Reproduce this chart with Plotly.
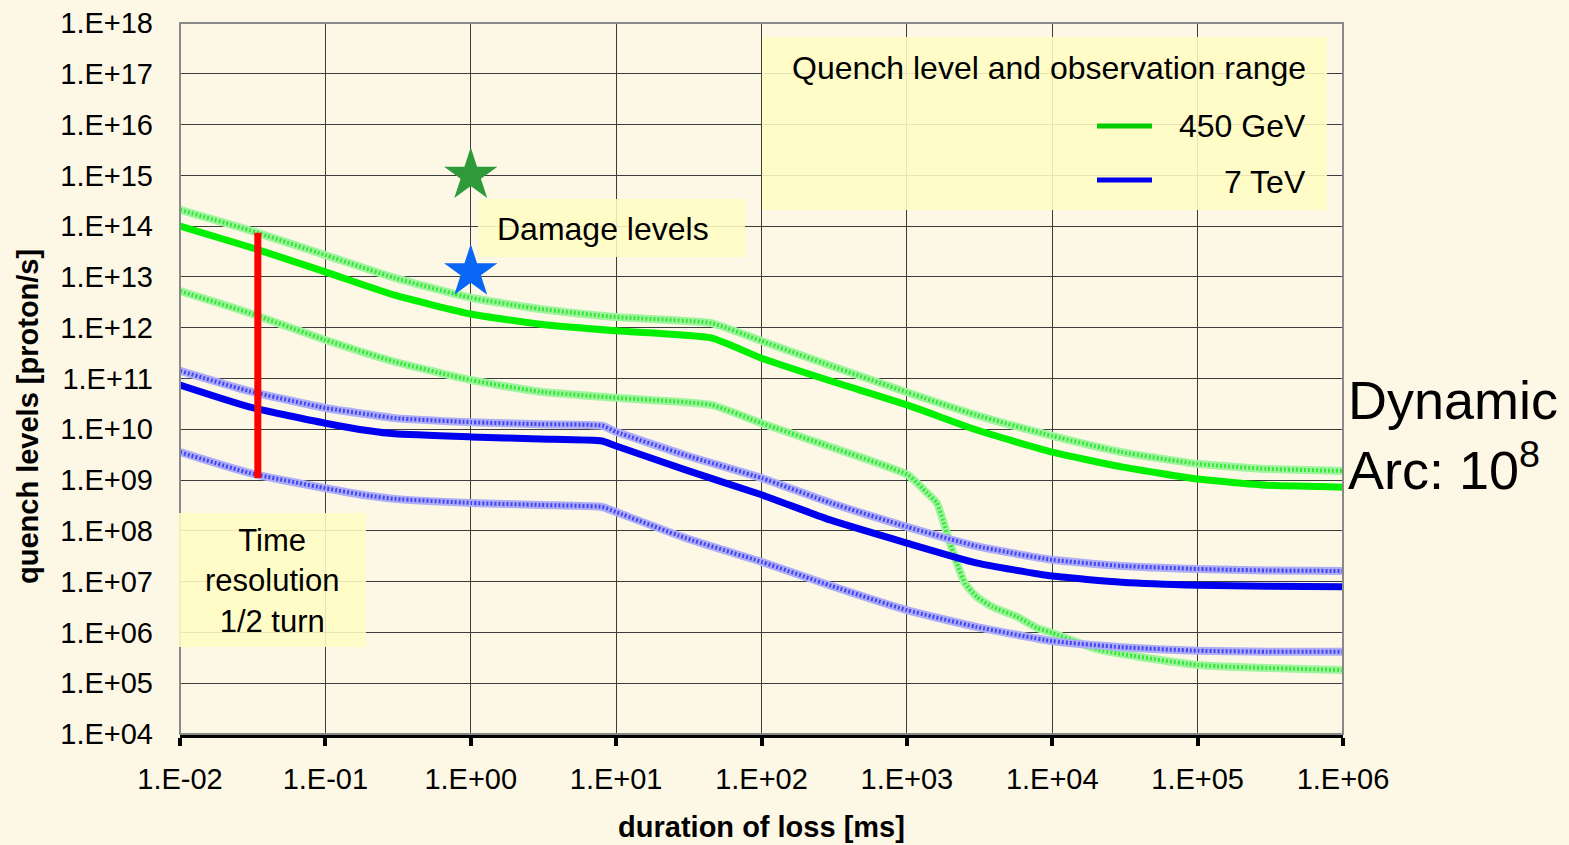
import plotly.graph_objects as go

# ---------------- data ----------------
x_main = [0.01, 0.03, 0.1, 0.3, 1, 3, 10, 45, 100, 300, 1000, 3000, 1e4, 3e4, 1e5, 3e5, 1e6]
g450_quench_log10 = [14.0, 13.59, 13.10, 12.64, 12.27, 12.07, 11.94, 11.80, 11.40, 10.95,
                     10.48, 9.99, 9.55, 9.26, 9.02, 8.90, 8.86]
g450_upper_log10 = [14.32, 13.92, 13.43, 12.98, 12.59, 12.37, 12.21, 12.09, 11.74, 11.25,
                    10.73, 10.28, 9.87, 9.55, 9.32, 9.22, 9.18]

x_g450_lower = [0.01, 0.03, 0.1, 0.3, 1, 3, 10, 45, 100, 300, 1016, 1374, 1607, 1770, 1977,
                2208, 2506, 3027, 3899, 5715, 7834, 1e4, 2.1e4, 1e5, 1e6]
g450_lower_log10 = [12.72, 12.29, 11.76, 11.33, 10.97, 10.74, 10.62, 10.48, 10.12, 9.65, 9.10,
                    8.75, 8.55, 8.21, 7.76, 7.37, 6.97, 6.70, 6.50, 6.31, 6.09, 5.99, 5.66,
                    5.36, 5.26]

x_7tev = [0.01, 0.03, 0.1, 0.2, 0.3, 1, 3, 8, 10, 30, 100, 300, 1000, 3000, 1e4, 3e4, 1e5, 3e5, 1e6]
t7_quench_log10 = [10.87, 10.44, 10.12, 9.97, 9.91, 9.85, 9.81, 9.77, 9.67, 9.20, 8.71, 8.21,
                   7.76, 7.37, 7.11, 6.99, 6.93, 6.91, 6.90]
t7_upper_log10 = [11.15, 10.75, 10.42, 10.29, 10.22, 10.14, 10.10, 10.07, 9.95, 9.49, 9.04, 8.55,
                  8.08, 7.70, 7.43, 7.31, 7.25, 7.22, 7.21]
t7_lower_log10 = [9.55, 9.14, 8.84, 8.69, 8.63, 8.55, 8.51, 8.47, 8.37, 7.86, 7.39, 6.92,
                  6.44, 6.11, 5.83, 5.71, 5.64, 5.62, 5.62]

time_res_x = [0.0343, 0.0343]
time_res_y = [7.4e13, 1.1e9]

damage_x = [1.0, 1.0]
damage_y = [1.0e15, 1.25e13]
damage_colors = ["#2f9a3a", "#0a66f5"]

x_ticks = [1e-2, 1e-1, 1e0, 1e1, 1e2, 1e3, 1e4, 1e5, 1e6]
x_ticktext = ["1.E-02", "1.E-01", "1.E+00", "1.E+01", "1.E+02", "1.E+03", "1.E+04", "1.E+05", "1.E+06"]
y_ticks = [10.0 ** k for k in range(4, 19)]
y_ticktext = ["1.E+%02d" % k for k in range(4, 19)]

# ---------------- styling ----------------
W, H = 1569, 845
L, R, T, B = 180, 1343, 23, 734
FONT = "Liberation Sans, Arial, sans-serif"
BG = "#FDF7E5"
GREEN = "#00F000"
BLUE = "#0000F0"


def px(xp):
    return (xp - L) / (R - L)


def py(yp):
    return (B - yp) / (B - T)


def exp10(vals):
    return [10.0 ** v for v in vals]


fig = go.Figure()


def hatched(xs, ys, base, dots):
    fig.add_trace(go.Scatter(x=xs, y=ys, mode="lines", showlegend=False, hoverinfo="skip",
                             line=dict(color=base, width=8, shape="spline", smoothing=0.5)))
    fig.add_trace(go.Scatter(x=xs, y=ys, mode="lines", showlegend=False, hoverinfo="skip",
                             line=dict(color=dots, width=4, dash="2px,2px", shape="spline",
                                       smoothing=0.5)))


hatched(x_main, exp10(g450_upper_log10), "#A0F4A0", "#38E638")
hatched(x_g450_lower, exp10(g450_lower_log10), "#A0F4A0", "#38E638")
hatched(x_7tev, exp10(t7_upper_log10), "#ADADF8", "#4646F0")
hatched(x_7tev, exp10(t7_lower_log10), "#ADADF8", "#4646F0")

fig.add_trace(go.Scatter(x=x_main, y=exp10(g450_quench_log10), mode="lines", name="450 GeV",
                         showlegend=False,
                         line=dict(color=GREEN, width=7, shape="spline", smoothing=0.5)))
fig.add_trace(go.Scatter(x=x_7tev, y=exp10(t7_quench_log10), mode="lines", name="7 TeV",
                         showlegend=False,
                         line=dict(color=BLUE, width=7, shape="spline", smoothing=0.5)))

fig.add_trace(go.Scatter(x=time_res_x, y=time_res_y, mode="lines", showlegend=False,
                         line=dict(color="#FF0000", width=7)))

fig.add_trace(go.Scatter(x=damage_x, y=damage_y, mode="markers", showlegend=False,
                         marker=dict(symbol="star", size=40, color=damage_colors,
                                     line=dict(width=0))))

shapes = []
# plot border (gray)
shapes.append(dict(type="rect", xref="paper", yref="paper", x0=0, x1=1, y0=0, y1=1,
                   line=dict(color="#8a8a8a", width=2), layer="above"))
# legend box
shapes.append(dict(type="rect", xref="paper", yref="paper", x0=px(762), x1=px(1327),
                   y0=py(210), y1=py(37), fillcolor="rgba(255,253,196,0.88)",
                   line=dict(width=0), layer="above"))
shapes.append(dict(type="line", xref="paper", yref="paper", x0=px(1097), x1=px(1152),
                   y0=py(126), y1=py(126), line=dict(color="#00CC00", width=5), layer="above"))
shapes.append(dict(type="line", xref="paper", yref="paper", x0=px(1097), x1=px(1152),
                   y0=py(180), y1=py(180), line=dict(color="#0000EE", width=5), layer="above"))
# damage levels box
shapes.append(dict(type="rect", xref="paper", yref="paper", x0=px(478), x1=px(745),
                   y0=py(257), y1=py(199), fillcolor="rgba(255,253,196,0.88)",
                   line=dict(width=0), layer="above"))
# time resolution box
shapes.append(dict(type="rect", xref="paper", yref="paper", x0=px(178), x1=px(366),
                   y0=py(647), y1=py(513), fillcolor="rgba(255,253,196,0.88)",
                   line=dict(width=0), layer="above"))

annotations = [
    dict(xref="paper", yref="paper", x=px(1308), y=py(68), text="Quench level and observation range",
         xanchor="right", yanchor="middle", showarrow=False, font=dict(size=32, color="black")),
    dict(xref="paper", yref="paper", x=px(1308), y=py(126), text="450 GeV",
         xanchor="right", yanchor="middle", showarrow=False, font=dict(size=32, color="black")),
    dict(xref="paper", yref="paper", x=px(1308), y=py(182), text="7 TeV",
         xanchor="right", yanchor="middle", showarrow=False, font=dict(size=32, color="black")),
    dict(xref="paper", yref="paper", x=px(603), y=py(229), text="Damage levels",
         xanchor="center", yanchor="middle", showarrow=False, font=dict(size=32, color="black")),
    dict(xref="paper", yref="paper", x=px(272), y=py(581), text="Time<br>resolution<br>1/2 turn",
         xanchor="center", yanchor="middle", showarrow=False, align="center",
         font=dict(size=31, color="black")),
    dict(xref="paper", yref="paper", x=px(1346), y=py(435), text="Dynamic<br>Arc: 10<sup>8</sup>",
         xanchor="left", yanchor="middle", showarrow=False, align="left",
         font=dict(size=54, color="black")),
    dict(xref="paper", yref="paper", x=px(28), y=py(417), text="<b>quench levels [proton/s]</b>",
         xanchor="center", yanchor="middle", showarrow=False, textangle=-90,
         font=dict(size=29, color="black")),
]

fig.update_layout(
    width=W, height=H,
    margin=dict(l=L, r=W - R, t=T, b=H - B, pad=0, autoexpand=False),
    paper_bgcolor=BG, plot_bgcolor=BG,
    font=dict(family=FONT, color="black"),
    shapes=shapes, annotations=annotations,
    showlegend=False,
)

fig.update_xaxes(type="log", range=[-2, 6], tickvals=x_ticks, ticktext=x_ticktext,
                 tickfont=dict(size=29, color="black"), automargin=False,
                 showgrid=True, gridcolor="#3c3c3c", gridwidth=1.3,
                 showline=True, linecolor="black", linewidth=4,
                 ticks="outside", ticklen=8, tickwidth=4, tickcolor="black",
                 ticklabelstandoff=8, zeroline=False,
                 title=dict(text="<b>duration of loss [ms]</b>", font=dict(size=29, color="black"),
                            standoff=24))
fig.update_yaxes(type="log", range=[4, 18], tickvals=y_ticks, ticktext=y_ticktext,
                 tickfont=dict(size=29, color="black"), automargin=False,
                 showgrid=True, gridcolor="#3c3c3c", gridwidth=1.3,
                 showline=False, ticks="", ticklabelstandoff=26, zeroline=False)

fig.write_html("out.html")
